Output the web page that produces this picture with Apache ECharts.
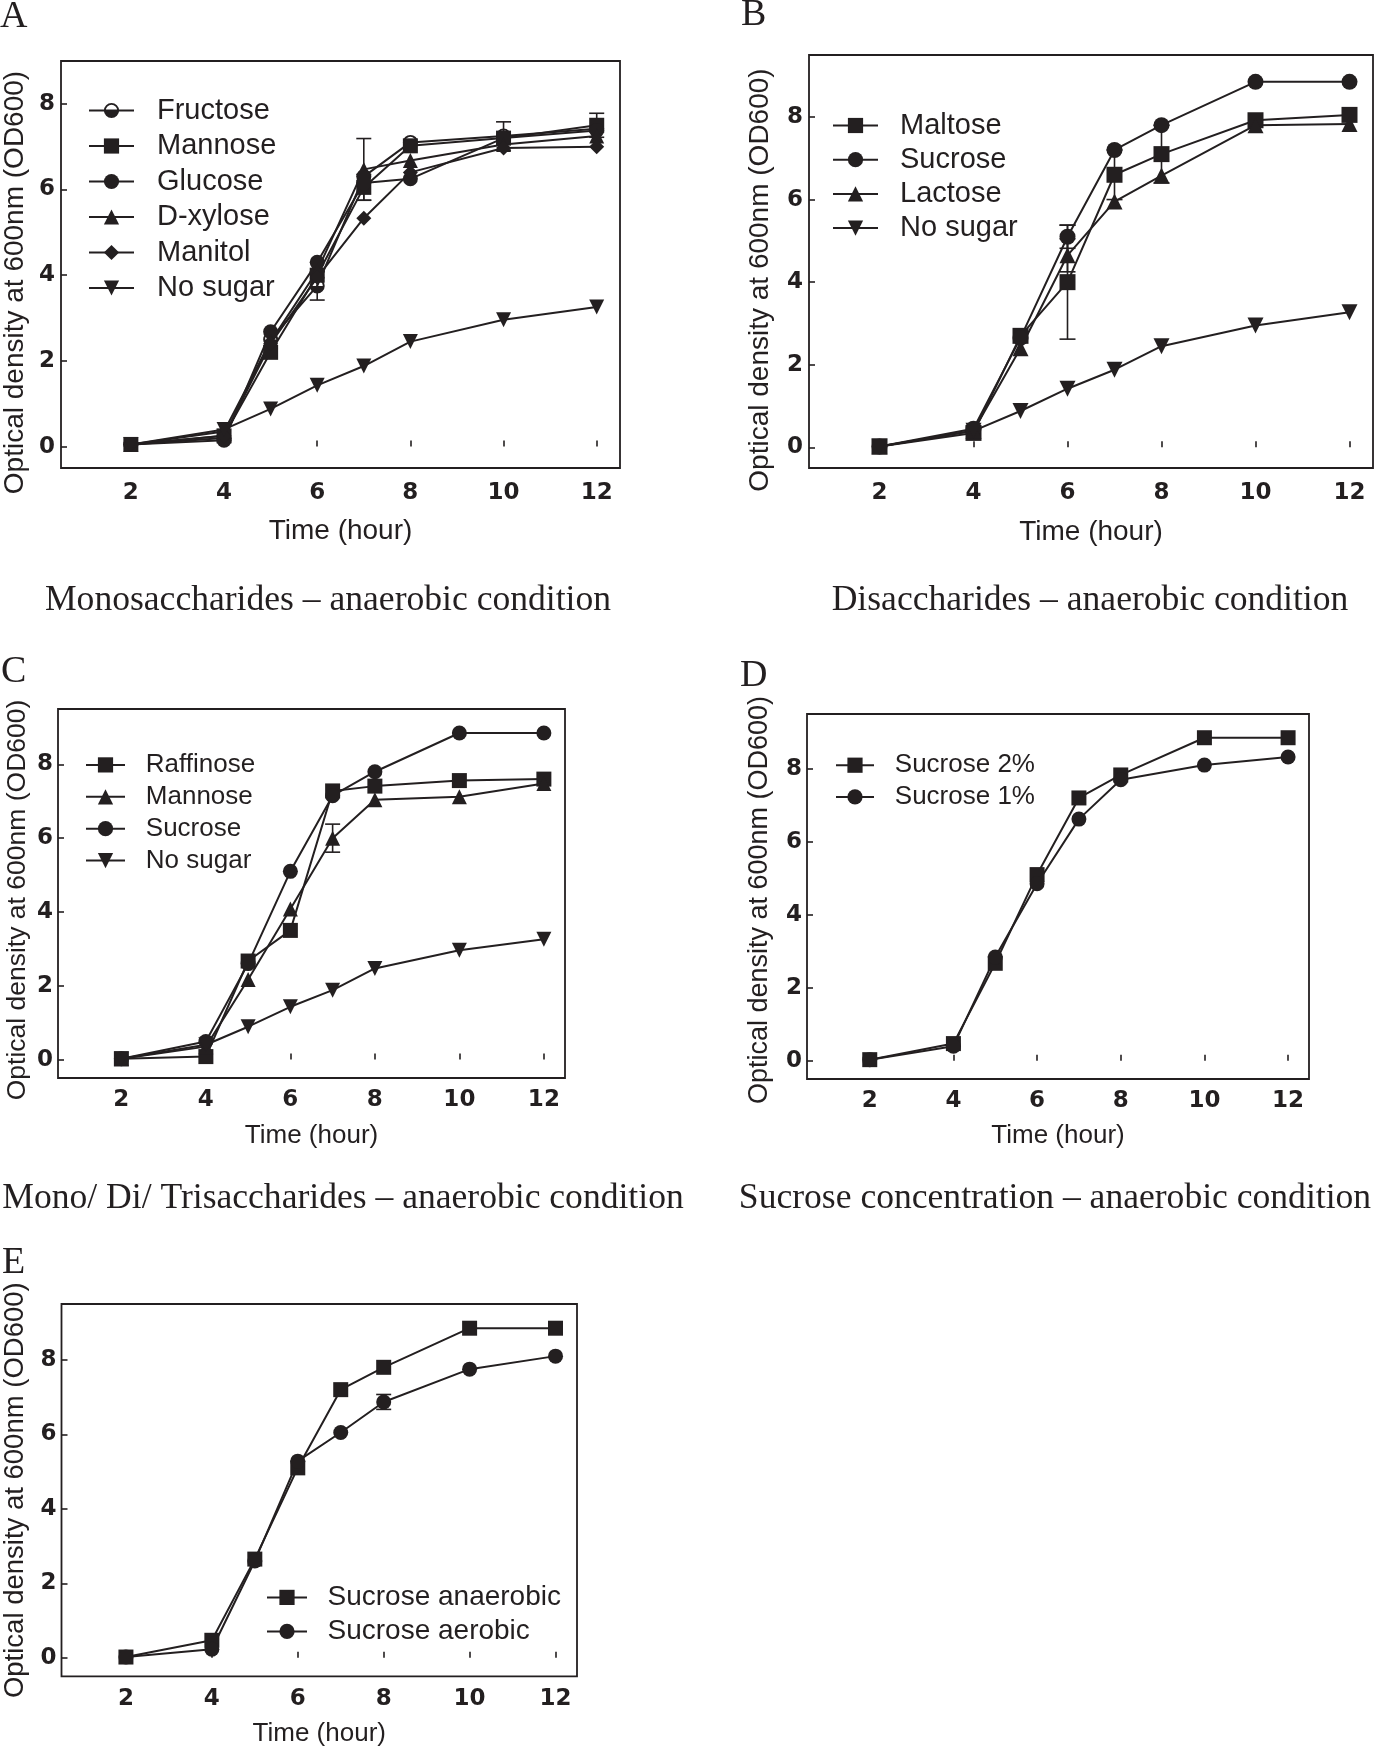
<!DOCTYPE html>
<html><head><meta charset="utf-8">
<script src="https://cdn.jsdelivr.net/npm/echarts@6/dist/echarts.min.js"></script>
<style>html,body{margin:0;padding:0;background:#fff}#c{width:1375px;height:1748px}</style>
</head><body><div id="c"></div>
<script>
// ---------------- DATA ----------------
const hours = [2, 4, 5, 6, 7, 8, 10, 12];
const xTicks = [2, 4, 6, 8, 10, 12];
const yTicks = [0, 2, 4, 6, 8];

// Panel A – Monosaccharides
const A_fructose    = [0.05, 0.20, 2.50, 3.75, 6.30, 7.10, 7.25, 7.42];
const A_fructoseErr = [0, 0, 0, 0.33, 0, 0, 0.33, 0];
const A_mannose     = [0.05, 0.25, 2.20, 4.00, 6.05, 7.02, 7.20, 7.50];
const A_mannoseErr  = [0, 0, 0, 0, 0.30, 0, 0, 0.28];
const A_glucose     = [0.05, 0.15, 2.68, 4.30, 6.15, 6.25, 7.20, 7.38];
const A_xylose      = [0.05, 0.35, 2.45, 4.10, 6.47, 6.68, 7.05, 7.25];
const A_xyloseErr   = [0, 0, 0, 0, 0.72, 0, 0, 0];
const A_manitol     = [0.05, 0.25, 2.40, 3.95, 5.33, 6.40, 6.97, 7.00];
const A_nosugar     = [0.05, 0.40, 0.88, 1.43, 1.88, 2.45, 2.96, 3.26];

// Panel B – Disaccharides
const B_maltose     = [0.02, 0.35, 2.70, 4.00, 6.60, 7.10, 7.92, 8.05];
const B_maltoseErr  = [0, 0, 0, 1.38, 0.60, 0.70, 0, 0];
const B_sucrose     = [0.02, 0.45, 2.65, 5.10, 7.20, 7.80, 8.85, 8.85];
const B_sucroseErr  = [0, 0, 0, 0.28, 0, 0, 0, 0];
const B_lactose     = [0.02, 0.40, 2.40, 4.65, 5.95, 6.58, 7.80, 7.83];
const B_lactoseErr  = [0, 0, 0, 0.40, 0, 0, 0, 0];
const B_nosugar     = [0.02, 0.40, 0.88, 1.42, 1.88, 2.45, 2.95, 3.27];

// Panel C – Mono/Di/Trisaccharides
const C_raffinose   = [0.02, 0.08, 2.67, 3.50, 7.28, 7.41, 7.56, 7.60];
const C_mannose     = [0.02, 0.35, 2.17, 4.08, 6.00, 7.04, 7.12, 7.48];
const C_mannoseErr  = [0, 0, 0, 0, 0.38, 0, 0, 0];
const C_sucrose     = [0.02, 0.49, 2.60, 5.10, 7.15, 7.80, 8.85, 8.85];
const C_nosugar     = [0.02, 0.40, 0.89, 1.43, 1.88, 2.47, 2.96, 3.26];

// Panel D – Sucrose concentration
const D_sucrose2    = [0.03, 0.47, 2.67, 5.10, 7.20, 7.83, 8.85, 8.85];
const D_sucrose1    = [0.03, 0.40, 2.84, 4.85, 6.62, 7.70, 8.10, 8.32];

// Panel E – anaerobic vs aerobic
const E_anaerobic   = [0.02, 0.47, 2.65, 5.10, 7.20, 7.80, 8.85, 8.85];
const E_aerobic     = [0.02, 0.23, 2.60, 5.28, 6.05, 6.87, 7.75, 8.10];
const E_aerobicErr  = [0, 0, 0, 0, 0, 0.20, 0, 0];

// ---------------- STYLE / LAYOUT ----------------
const INK = '#231f20';
const SANS = '"Liberation Sans", Arial, sans-serif';
const TICKFONT = '"DejaVu Sans", sans-serif';
const SERIF = '"Liberation Serif", "Times New Roman", serif';
const HALF_CIRCLE = 'path://M0,10A10,10,0,1,1,20,10A10,10,0,1,1,0,10ZM2.5,10A7.5,7.5,0,1,0,17.5,10A7.5,7.5,0,1,0,2.5,10ZM0,10L20,10A10,10,0,0,1,0,10Z';

const panels = [
  {grid:{left:58, top:61, width:562, height:407}, yMax:9,   tick:23, title:28, ytitle:28,   yShift:36, gapY:32,   gapX:49.5, mX:14,   mY:6, sym:15,
   lg:{left:88,  top:95.5,  gap:5.5, fs:29, lh:30, pad:18,   w:45}},
  {grid:{left:809, top:55, width:564, height:413}, yMax:9.5, tick:23, title:28, ytitle:28,   yShift:37, gapY:35,   gapX:50,   mX:14,   mY:6, sym:16,
   lg:{left:832, top:110.5, gap:4.2, fs:29, lh:30, pad:17,   w:45}},
  {grid:{left:58, top:709, width:507, height:369}, yMax:9.5, tick:23, title:26, ytitle:26.5, yShift:13, gapY:27,   gapX:45,   mX:10.5, mY:5, sym:15,
   lg:{left:85,  top:751.4, gap:4.9, fs:26, lh:27, pad:15.8, w:39}},
  {grid:{left:807, top:714, width:502, height:365}, yMax:9.5, tick:23, title:26, ytitle:27,   yShift:7,  gapY:34,   gapX:44,   mX:10.5, mY:5, sym:15,
   lg:{left:835, top:751.7, gap:4.7, fs:26, lh:27, pad:15.8, w:38}},
  {grid:{left:58, top:1304, width:519, height:374}, yMax:9.5, tick:23, title:26, ytitle:27.5, yShift:0,  gapY:32.5, gapX:44.6, mX:11,   mY:5, sym:15,
   lg:{left:266, top:1582.9, gap:5, fs:28, lh:29, pad:15.5, w:40}}
];

const grids = [], xAxes = [], yAxes = [], series = [], legends = [];

panels.forEach((p, i) => {
  grids.push(Object.assign({show:true, borderColor:INK, borderWidth:1.8, backgroundColor:'transparent'}, p.grid));
  xAxes.push({
    type:'value', gridIndex:i, min:0.5, max:12.5,
    name:'Time (hour)', nameLocation:'middle', nameGap:p.gapX,
    nameTextStyle:{fontFamily:SANS, fontSize:p.title, color:INK},
    axisLine:{show:false}, splitLine:{show:false},
    axisTick:{show:true, inside:true, length:6, customValues:xTicks, lineStyle:{color:INK, width:1.6}},
    axisLabel:{customValues:xTicks, margin:p.mX, fontFamily:TICKFONT, fontWeight:'bold', fontSize:p.tick, color:INK}
  });
  yAxes.push({
    type:'value', gridIndex:i, min:-0.5, max:p.yMax,
    name:'Optical density at 600nm (OD600)', nameLocation:'middle', nameGap:p.gapY, nameRotate:90,
    nameTextStyle:{fontFamily:SANS, fontSize:p.ytitle, color:INK, padding:[0, p.yShift, 0, 0]},
    axisLine:{show:false}, splitLine:{show:false},
    axisTick:{show:true, inside:true, length:6, customValues:yTicks, lineStyle:{color:INK, width:1.6}},
    axisLabel:{customValues:yTicks, margin:p.mY, fontFamily:TICKFONT, fontWeight:'bold', fontSize:p.tick, color:INK}
  });
});

function line(idx, key, label, values, symbol, rotate) {
  return {
    type:'line', name:key + '|' + label, xAxisIndex:idx, yAxisIndex:idx,
    data: hours.map((h, j) => [h, values[j]]),
    symbol: symbol, symbolSize: panels[idx].sym, symbolRotate: rotate || 0,
    lineStyle:{color:INK, width:2}, itemStyle:{color:INK},
    animation:false, z:3
  };
}
function errors(idx, values, errs) {
  const cap = panels[idx].sym;
  return {
    type:'custom', xAxisIndex:idx, yAxisIndex:idx, silent:true, animation:false, z:2,
    data: hours.map((h, j) => [h, values[j], errs[j]]).filter(d => d[2] > 0),
    encode:{x:0, y:1},
    renderItem: function (params, api) {
      const x = api.value(0), y = api.value(1), e = api.value(2);
      const lo = api.coord([x, y - e]), hi = api.coord([x, y + e]);
      const st = {stroke:INK, lineWidth:1.6};
      return {type:'group', children:[
        {type:'line', shape:{x1:lo[0], y1:lo[1], x2:hi[0], y2:hi[1]}, style:st},
        {type:'line', shape:{x1:lo[0]-cap/2, y1:lo[1], x2:lo[0]+cap/2, y2:lo[1]}, style:st},
        {type:'line', shape:{x1:hi[0]-cap/2, y1:hi[1], x2:hi[0]+cap/2, y2:hi[1]}, style:st}
      ]};
    }
  };
}

// Panel A
series.push(
  errors(0, A_fructose, A_fructoseErr), errors(0, A_mannose, A_mannoseErr), errors(0, A_xylose, A_xyloseErr),
  line(0, 'A', 'Fructose', A_fructose, HALF_CIRCLE),
  line(0, 'A', 'Mannose', A_mannose, 'rect'),
  line(0, 'A', 'Glucose', A_glucose, 'circle'),
  line(0, 'A', 'D-xylose', A_xylose, 'triangle'),
  line(0, 'A', 'Manitol', A_manitol, 'diamond'),
  line(0, 'A', 'No sugar', A_nosugar, 'triangle', 180)
);
// Panel B
series.push(
  errors(1, B_maltose, B_maltoseErr), errors(1, B_sucrose, B_sucroseErr), errors(1, B_lactose, B_lactoseErr),
  line(1, 'B', 'Maltose', B_maltose, 'rect'),
  line(1, 'B', 'Sucrose', B_sucrose, 'circle'),
  line(1, 'B', 'Lactose', B_lactose, 'triangle'),
  line(1, 'B', 'No sugar', B_nosugar, 'triangle', 180)
);
// Panel C
series.push(
  errors(2, C_mannose, C_mannoseErr),
  line(2, 'C', 'Raffinose', C_raffinose, 'rect'),
  line(2, 'C', 'Mannose', C_mannose, 'triangle'),
  line(2, 'C', 'Sucrose', C_sucrose, 'circle'),
  line(2, 'C', 'No sugar', C_nosugar, 'triangle', 180)
);
// Panel D
series.push(
  line(3, 'D', 'Sucrose 2%', D_sucrose2, 'rect'),
  line(3, 'D', 'Sucrose 1%', D_sucrose1, 'circle')
);
// Panel E
series.push(
  errors(4, E_aerobic, E_aerobicErr),
  line(4, 'E', 'Sucrose anaerobic', E_anaerobic, 'rect'),
  line(4, 'E', 'Sucrose aerobic', E_aerobic, 'circle')
);

const legendNames = [
  ['A|Fructose','A|Mannose','A|Glucose','A|D-xylose','A|Manitol','A|No sugar'],
  ['B|Maltose','B|Sucrose','B|Lactose','B|No sugar'],
  ['C|Raffinose','C|Mannose','C|Sucrose','C|No sugar'],
  ['D|Sucrose 2%','D|Sucrose 1%'],
  ['E|Sucrose anaerobic','E|Sucrose aerobic']
];
panels.forEach((p, i) => {
  const l = p.lg;
  legends.push({
    data: legendNames[i], orient:'vertical', left:l.left, top:l.top, padding:0,
    itemGap:l.gap, itemWidth:l.w, itemHeight:19, selectedMode:false,
    formatter: n => n.split('|')[1],
    textStyle:{fontFamily:SANS, fontSize:l.fs, lineHeight:l.lh, color:INK, padding:[0,0,0,l.pad]}
  });
});

const letters = [['A', 0, 17], ['B', 741, 15], ['C', 1, 672], ['D', 740, 676], ['E', 2, 1263]];
const captions = [
  ['Monosaccharides \u2013 anaerobic condition', 328, 601],
  ['Disaccharides \u2013 anaerobic condition', 1090, 601],
  ['Mono/ Di/ Trisaccharides \u2013 anaerobic condition', 343, 1199],
  ['Sucrose concentration \u2013 anaerobic condition', 1055, 1199]
];
const graphics = [];
letters.forEach(t => graphics.push({type:'text', x:t[1], y:t[2], silent:true,
  style:{text:t[0], fontFamily:SERIF, fontSize:38, fill:INK, align:'left', verticalAlign:'middle'}}));
captions.forEach(t => graphics.push({type:'text', x:t[1], y:t[2], silent:true,
  style:{text:t[0], fontFamily:SERIF, fontSize:35.6, fill:INK, align:'center', verticalAlign:'middle'}}));

const chart = echarts.init(document.getElementById('c'), null, {renderer:'canvas'});
chart.setOption({
  backgroundColor:'#ffffff',
  animation:false,
  grid:grids, xAxis:xAxes, yAxis:yAxes, series:series, legend:legends, graphic:graphics
});
</script></body></html>
